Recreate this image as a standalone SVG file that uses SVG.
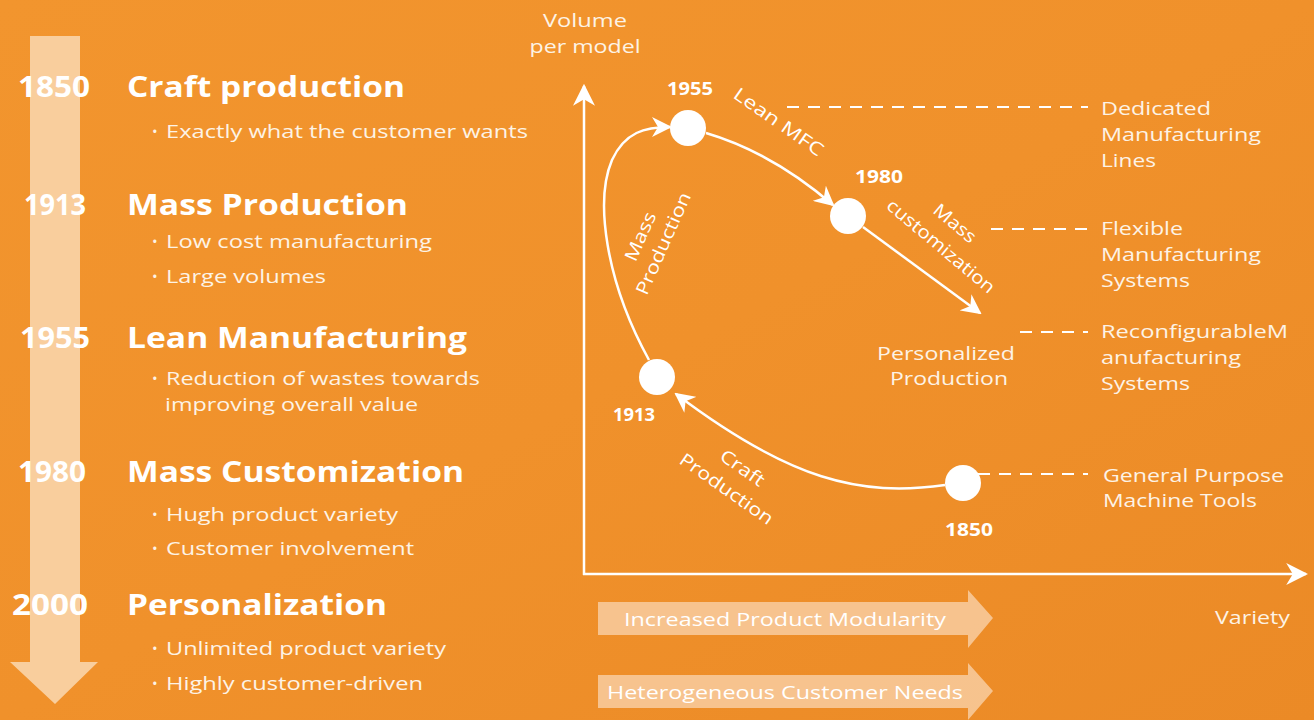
<svg xmlns="http://www.w3.org/2000/svg" width="1314" height="720" viewBox="0 0 1314 720">
  <defs>
    <linearGradient id="bg" x1="0" y1="0" x2="1" y2="1">
      <stop offset="0" stop-color="#F2952E"/>
      <stop offset="0.5" stop-color="#F0912B"/>
      <stop offset="1" stop-color="#EB8A26"/>
    </linearGradient>
    <marker id="head" viewBox="0 0 10 10" refX="9" refY="5" markerWidth="20" markerHeight="20" markerUnits="userSpaceOnUse" orient="auto">
      <path d="M0,0 L10,5 L0,10 L3,5 z" fill="#FFFFFF"/>
    </marker>
    <marker id="axisHead" viewBox="0 0 10 10" refX="9" refY="5" markerWidth="22" markerHeight="22" markerUnits="userSpaceOnUse" orient="auto">
      <path d="M0,0 L10,5 L0,10 L3,5 z" fill="#FFFFFF"/>
    </marker>
    <style>
      .yr { font-family: "Open Sans", "Liberation Sans", sans-serif; font-weight: 700; font-size: 29px; fill: #FFFFFF; }
      .ttl { font-family: "Open Sans", "Liberation Sans", sans-serif; font-weight: 700; font-size: 29px; fill: #FFFFFF; }
      .bul { font-family: "Open Sans", "Liberation Sans", sans-serif; font-weight: 400; font-size: 18.5px; fill: #FDF3E6; }
      .dot { font-family: "Open Sans", "Liberation Sans", sans-serif; font-size: 15px; fill: #FDF3E6; }
      .lbl { font-family: "Open Sans", "Liberation Sans", sans-serif; font-weight: 400; font-size: 18.5px; fill: #FDF3E6; }
      .ny { font-family: "Open Sans", "Liberation Sans", sans-serif; font-weight: 700; font-size: 17px; fill: #FFFFFF; }
      .rot { font-family: "Open Sans", "Liberation Sans", sans-serif; font-weight: 400; font-size: 18px; fill: #FFFFFF; text-anchor: middle; }
      .band { font-family: "Open Sans", "Liberation Sans", sans-serif; font-weight: 400; font-size: 19px; fill: #FFFFFF; }
      .curve { fill: none; stroke: #FFFFFF; stroke-width: 2.5; }
      .dash { fill: none; stroke: #FFFFFF; stroke-width: 2; stroke-dasharray: 12 9; }
      .axis { fill: none; stroke: #FFFFFF; stroke-width: 2.5; }
      .node { fill: #FFFFFF; }
      .bandArrow { fill: #F8CDA0; fill-opacity: 0.85; }
    </style>
  </defs>

  <!-- background -->
  <rect x="0" y="0" width="1314" height="720" fill="url(#bg)"/>

  <!-- timeline arrow on the left -->
  <polygon points="30,36 80,36 80,662 98,662 55,704 10,662 30,662" fill="#F9D6AD" fill-opacity="0.88"/>

  <!-- timeline entries -->
  <g id="era-1850">
    <text class="yr" x="18" y="97" textLength="72" lengthAdjust="spacingAndGlyphs">1850</text>
    <text class="ttl" x="127" y="97" textLength="278" lengthAdjust="spacingAndGlyphs">Craft production</text>
    <text class="dot" x="152" y="137">•</text>
    <text class="bul" x="166" y="138" textLength="362" lengthAdjust="spacingAndGlyphs">Exactly what the customer wants</text>
  </g>
  <g id="era-1913">
    <text class="yr" x="24" y="215" textLength="62" lengthAdjust="spacingAndGlyphs">1913</text>
    <text class="ttl" x="127" y="215" textLength="281" lengthAdjust="spacingAndGlyphs">Mass Production</text>
    <text class="dot" x="152" y="247">•</text>
    <text class="bul" x="166" y="248" textLength="266" lengthAdjust="spacingAndGlyphs">Low cost manufacturing</text>
    <text class="dot" x="152" y="282">•</text>
    <text class="bul" x="166" y="283" textLength="160" lengthAdjust="spacingAndGlyphs">Large volumes</text>
  </g>
  <g id="era-1955">
    <text class="yr" x="20" y="348" textLength="70" lengthAdjust="spacingAndGlyphs">1955</text>
    <text class="ttl" x="127" y="348" textLength="340" lengthAdjust="spacingAndGlyphs">Lean Manufacturing</text>
    <text class="dot" x="152" y="384">•</text>
    <text class="bul" x="166" y="385" textLength="314" lengthAdjust="spacingAndGlyphs">Reduction of wastes towards</text>
    <text class="bul" x="165" y="411" textLength="253" lengthAdjust="spacingAndGlyphs">improving overall value</text>
  </g>
  <g id="era-1980">
    <text class="yr" x="18" y="482" textLength="68" lengthAdjust="spacingAndGlyphs">1980</text>
    <text class="ttl" x="127" y="482" textLength="337" lengthAdjust="spacingAndGlyphs">Mass Customization</text>
    <text class="dot" x="152" y="520">•</text>
    <text class="bul" x="166" y="521" textLength="232" lengthAdjust="spacingAndGlyphs">Hugh product variety</text>
    <text class="dot" x="152" y="554">•</text>
    <text class="bul" x="166" y="555" textLength="248" lengthAdjust="spacingAndGlyphs">Customer involvement</text>
  </g>
  <g id="era-2000">
    <text class="yr" x="12" y="615" textLength="76" lengthAdjust="spacingAndGlyphs">2000</text>
    <text class="ttl" x="127" y="615" textLength="260" lengthAdjust="spacingAndGlyphs">Personalization</text>
    <text class="dot" x="152" y="654">•</text>
    <text class="bul" x="166" y="655" textLength="280" lengthAdjust="spacingAndGlyphs">Unlimited product variety</text>
    <text class="dot" x="152" y="689">•</text>
    <text class="bul" x="166" y="690" textLength="257" lengthAdjust="spacingAndGlyphs">Highly customer-driven</text>
  </g>

  <!-- axes -->
  <g id="axes">
    <line class="axis" x1="584" y1="575" x2="584" y2="86" marker-end="url(#axisHead)"/>
    <line class="axis" x1="583" y1="574" x2="1306" y2="574" marker-end="url(#axisHead)"/>
    <text class="lbl" x="585" y="27" text-anchor="middle" textLength="84" lengthAdjust="spacingAndGlyphs">Volume</text>
    <text class="lbl" x="585" y="53" text-anchor="middle" textLength="111" lengthAdjust="spacingAndGlyphs">per model</text>
    <text class="lbl" x="1215" y="624" textLength="75" lengthAdjust="spacingAndGlyphs">Variety</text>
  </g>

  <!-- connectors: evolution path and leader lines -->
  <g id="connectors">
    <path class="curve" d="M945,485 C860,497 790,480 676,394" marker-end="url(#head)"/>
    <path class="curve" d="M649,360 C605,280 595,200 612,160 C625,132 645,127 670,127" marker-end="url(#head)"/>
    <path class="curve" d="M706,133 C750,146 790,168 833,205" marker-end="url(#head)"/>
    <path class="curve" d="M863,227 L980,313" marker-end="url(#head)"/>
    <line class="dash" x1="787" y1="107" x2="1088" y2="107"/>
    <line class="dash" x1="991" y1="229" x2="1088" y2="229"/>
    <line class="dash" x1="1020" y1="332" x2="1088" y2="332"/>
    <line class="dash" x1="978" y1="474" x2="1088" y2="474"/>
  </g>

  <!-- path labels -->
  <g id="path-labels">
    <text class="rot" transform="translate(775,127) rotate(35)" textLength="105" lengthAdjust="spacingAndGlyphs">Lean MFC</text>
    <text class="rot" transform="translate(951,228) rotate(40)" textLength="50" lengthAdjust="spacingAndGlyphs">Mass</text>
    <text class="rot" transform="translate(937,251) rotate(40)" textLength="135" lengthAdjust="spacingAndGlyphs">customization</text>
    <text class="rot" transform="translate(646,239) rotate(-66)" textLength="52" lengthAdjust="spacingAndGlyphs">Mass</text>
    <text class="rot" transform="translate(669,246) rotate(-66)" textLength="110" lengthAdjust="spacingAndGlyphs">Production</text>
    <text class="rot" transform="translate(739,473) rotate(35)" textLength="50" lengthAdjust="spacingAndGlyphs">Craft</text>
    <text class="rot" transform="translate(723,494) rotate(35)" textLength="110" lengthAdjust="spacingAndGlyphs">Production</text>
  </g>

  <!-- milestones -->
  <g id="node-1850">
    <circle class="node" cx="963" cy="483" r="18"/>
    <text class="ny" x="945" y="536" textLength="48" lengthAdjust="spacingAndGlyphs">1850</text>
  </g>
  <g id="node-1913">
    <circle class="node" cx="657" cy="377" r="18"/>
    <text class="ny" x="613" y="421" textLength="42" lengthAdjust="spacingAndGlyphs">1913</text>
  </g>
  <g id="node-1955">
    <circle class="node" cx="688" cy="128" r="18"/>
    <text class="ny" x="667" y="95" textLength="46" lengthAdjust="spacingAndGlyphs">1955</text>
  </g>
  <g id="node-1980">
    <circle class="node" cx="848" cy="216" r="18"/>
    <text class="ny" x="855" y="183" textLength="48" lengthAdjust="spacingAndGlyphs">1980</text>
  </g>
  <g id="node-personalized">
    <text class="lbl" x="946" y="360" text-anchor="middle" textLength="138" lengthAdjust="spacingAndGlyphs">Personalized</text>
    <text class="lbl" x="949" y="385" text-anchor="middle" textLength="118" lengthAdjust="spacingAndGlyphs">Production</text>
  </g>

  <!-- manufacturing system types -->
  <g id="sys-dedicated">
    <text class="lbl" x="1101" y="115" textLength="110" lengthAdjust="spacingAndGlyphs">Dedicated</text>
    <text class="lbl" x="1101" y="141" textLength="160" lengthAdjust="spacingAndGlyphs">Manufacturing</text>
    <text class="lbl" x="1101" y="167" textLength="55" lengthAdjust="spacingAndGlyphs">Lines</text>
  </g>
  <g id="sys-flexible">
    <text class="lbl" x="1101" y="235" textLength="82" lengthAdjust="spacingAndGlyphs">Flexible</text>
    <text class="lbl" x="1101" y="261" textLength="160" lengthAdjust="spacingAndGlyphs">Manufacturing</text>
    <text class="lbl" x="1101" y="287" textLength="89" lengthAdjust="spacingAndGlyphs">Systems</text>
  </g>
  <g id="sys-reconfigurable">
    <text class="lbl" x="1101" y="338" textLength="187" lengthAdjust="spacingAndGlyphs">ReconfigurableM</text>
    <text class="lbl" x="1101" y="364" textLength="140" lengthAdjust="spacingAndGlyphs">anufacturing</text>
    <text class="lbl" x="1101" y="390" textLength="89" lengthAdjust="spacingAndGlyphs">Systems</text>
  </g>
  <g id="sys-general">
    <text class="lbl" x="1103" y="482" textLength="181" lengthAdjust="spacingAndGlyphs">General Purpose</text>
    <text class="lbl" x="1103" y="507" textLength="154" lengthAdjust="spacingAndGlyphs">Machine Tools</text>
  </g>

  <!-- trend bands -->
  <g id="band-modularity">
    <polygon class="bandArrow" points="598,602 968,602 968,590 993,618 968,648 968,635 598,635"/>
    <text class="band" x="624" y="626" textLength="322" lengthAdjust="spacingAndGlyphs">Increased Product Modularity</text>
  </g>
  <g id="band-needs">
    <polygon class="bandArrow" points="598,675 968,675 968,663 993,691 968,720 968,708 598,708"/>
    <text class="band" x="607" y="699" textLength="356" lengthAdjust="spacingAndGlyphs">Heterogeneous Customer Needs</text>
  </g>
</svg>
